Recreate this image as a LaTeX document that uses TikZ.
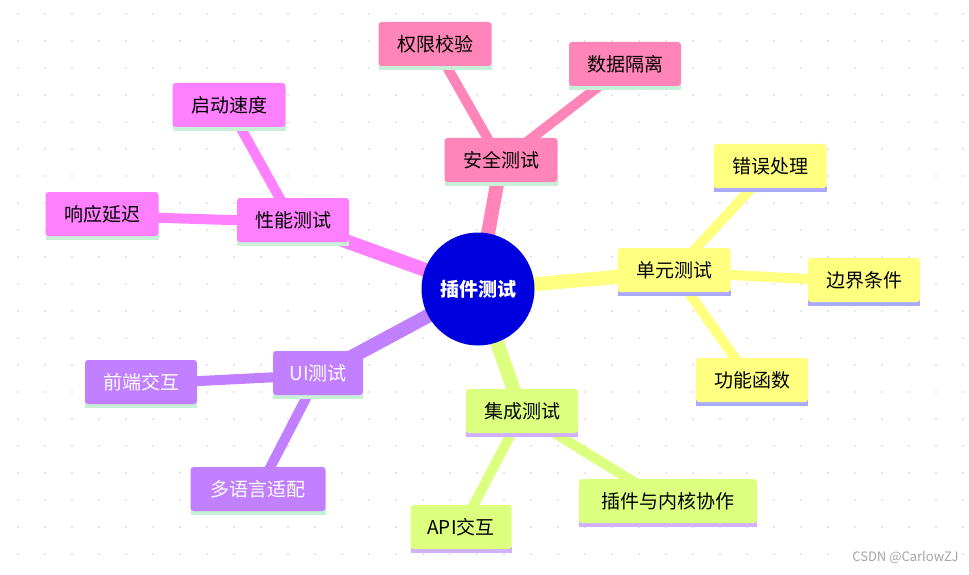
\documentclass[tikz,border=0pt]{standalone}
\usepackage{fontspec}
\newfontfamily\cjk{Noto Sans CJK SC}
\newfontfamily\cjkm{Noto Sans CJK SC Medium}
\begin{document}
\begin{tikzpicture}[x=1pt,y=-1pt,
  box/.style={rounded corners=3pt,minimum height=44pt,inner xsep=6pt,font=\cjk\fontsize{19}{22}\selectfont,text=black},
  edge/.style={line width=#1,line cap=butt}]
\useasboundingbox (0,0) rectangle (969,575);
\fill[white] (0,0) rectangle (969,575);
\foreach \i in {0,...,35}{\foreach \j in {0,...,21}{\fill[black!12] (18+27*\i,14+27*\j) circle (1.1);}}
\definecolor{pk}{HTML}{FF85B8}\definecolor{mg}{HTML}{FF80FF}\definecolor{ye}{HTML}{FFFF80}
\definecolor{pu}{HTML}{C080FF}\definecolor{gr}{HTML}{DDFF80}
\definecolor{sg}{HTML}{C8F0D8}\definecolor{sb}{HTML}{AAAAFF}\definecolor{sl}{HTML}{D0B0FF}
\newcommand\bx[7]{% name, x, y, w, fill, stripe, text
  \fill[#6] (#2-#4/2,#3+18) rectangle (#2+#4/2,#3+24);
  \node[box,fill=#5,minimum width=#4,text=#7] (#1) at (#2,#3-2) {#1};}
% edges
\coordinate (c) at (478,289);
\draw[pk,edge=14pt] (c) -- (501,162); \draw[pk,edge=10pt] (501,162)--(435,46); \draw[pk,edge=10pt] (501,162)--(625,66);
\draw[mg,edge=14pt] (c) -- (293,222); \draw[mg,edge=10pt] (293,222)--(229,107); \draw[mg,edge=10pt] (293,222)--(102,216);
\draw[ye,edge=14pt] (c) -- (674,272); \draw[ye,edge=10pt] (674,272)--(770,168); \draw[ye,edge=10pt] (674,272)--(864,282); \draw[ye,edge=10pt] (674,272)--(752,382);
\draw[pu,edge=14pt] (c) -- (318,375); \draw[pu,edge=10pt] (318,375)--(141,384); \draw[pu,edge=10pt] (318,375)--(258,491);
\draw[gr,edge=14pt] (c) -- (522,413); \draw[gr,edge=10pt] (522,413)--(461,529); \draw[gr,edge=10pt] (522,413)--(668,503);
% nodes
\bx{安全测试}{501}{162}{113}{pk}{sg}{black}
\bx{权限校验}{435}{46}{113}{pk}{sg}{black}
\bx{数据隔离}{625}{66}{112}{pk}{sg}{black}
\bx{性能测试}{293}{222}{112}{mg}{sg}{black}
\bx{启动速度}{229}{107}{113}{mg}{sg}{black}
\bx{响应延迟}{102}{216}{113}{mg}{sg}{black}
\bx{单元测试}{674}{272}{113}{ye}{sb}{black}
\bx{错误处理}{770}{168}{113}{ye}{sb}{black}
\bx{边界条件}{864}{282}{112}{ye}{sb}{black}
\bx{功能函数}{752}{382}{112}{ye}{sb}{black}
\bx{UI测试}{318}{375}{90}{pu}{sg}{white}
\bx{前端交互}{141}{384}{112}{pu}{sg}{white}
\bx{多语言适配}{258}{491}{135}{pu}{sg}{white}
\bx{集成测试}{522}{413}{112}{gr}{sl}{black}
\bx{API交互}{461}{529}{101}{gr}{sl}{black}
\bx{插件与内核协作}{668}{503}{178}{gr}{sl}{black}
\node[circle,fill=blue!87!black,minimum size=113pt,inner sep=0pt,text=white,font=\cjk\bfseries\fontsize{19}{22}\selectfont] (center) at (c) {插件测试};
\node[anchor=east,text=black!35,font=\cjk\fontsize{13}{15}\selectfont] (wm) at (962,557) {CSDN @CarlowZJ};
\end{tikzpicture}
\end{document}
